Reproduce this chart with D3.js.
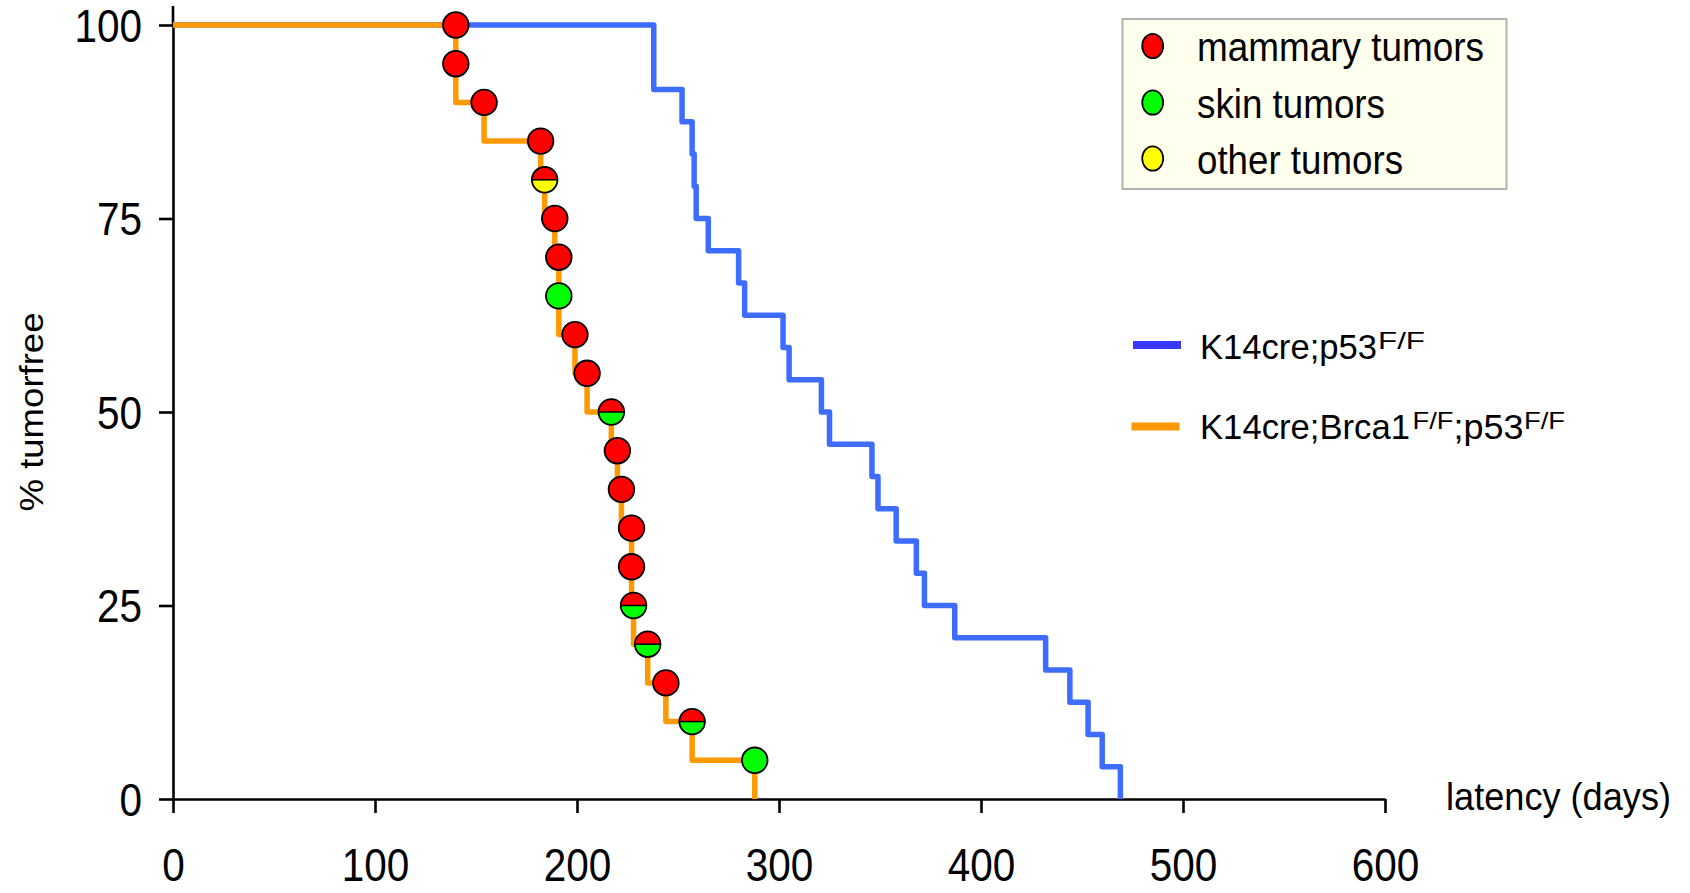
<!DOCTYPE html>
<html>
<head>
<meta charset="utf-8">
<script src="https://cdn.jsdelivr.net/npm/d3@7"></script>
<style>
  body { margin: 0; background: #fff; }
  text { font-family: Arial, "Liberation Sans", Helvetica, sans-serif; fill: #000; }
</style>
</head>
<body>
<svg id="chart" width="1690" height="893"></svg>
<script>
// K14cre;p53 F/F : step curve (day of step, % tumorfree after step)
const blueDays = [0, 238, 252, 257, 258, 259, 265, 280, 283, 302, 305, 321, 325, 346, 349, 358, 368, 372, 387, 432, 444, 453, 460, 469];
const bluePct  = [100, 91.67, 87.5, 83.33, 79.17, 75, 70.83, 66.67, 62.5, 58.33, 54.17, 50, 45.83, 41.67, 37.5, 33.33, 29.17, 25, 20.83, 16.67, 12.5, 8.33, 4.17, 0];

// K14cre;Brca1 F/F;p53 F/F : step curve
const orangeDays = [0, 140, 154, 182, 184, 189, 191, 199, 205, 217, 220, 222, 227, 228, 235, 244, 257, 288];
const orangePct  = [100, 90, 85, 80, 75, 70, 60, 55, 50, 45, 40, 35, 25, 20, 15, 10, 5, 0];

// tumor markers on the orange curve: M = mammary, S = skin, O = other
const markerDays  = [140, 140, 154, 182, 184, 189, 191, 191, 199, 205, 217, 220, 222, 227, 227, 228, 235, 244, 257, 288];
const markerPct   = [100, 95, 90, 85, 80, 75, 70, 65, 60, 55, 50, 45, 40, 35, 30, 25, 20, 15, 10, 5];
const markerTypes = ["M", "M", "M", "M", "MO", "M", "M", "S", "M", "M", "MS", "M", "M", "M", "M", "MS", "MS", "M", "MS", "S"];

const xTicks = [0, 100, 200, 300, 400, 500, 600];
const yTicks = [0, 25, 50, 75, 100];

const tumorLabels = ["mammary tumors", "skin tumors", "other tumors"];
const tumorColors = {M: "#ff0000", S: "#00ff00", O: "#ffff00"};

const svg = d3.select("#chart");
const x = d3.scaleLinear().domain([0, 600]).range([173, 1385]);
const y = d3.scaleLinear().domain([0, 100]).range([799, 25]);
const sx = 0.89; // glyphs in the picture are a bit narrow

// axes
const gx = svg.append("g")
    .attr("transform", `translate(0,${y(0)})`)
    .call(d3.axisBottom(x).tickValues(xTicks).tickSize(14).tickSizeOuter(0));
gx.selectAll("text")
    .attr("y", 82.5).attr("dy", 0)
    .attr("font-size", 45.5)
    .attr("transform", `scale(${sx},1)`);

const gy = svg.append("g")
    .attr("transform", `translate(${x(0)},0)`)
    .call(d3.axisLeft(y).tickValues(yTicks).tickSize(14).tickSizeOuter(0));
gy.selectAll("text")
    .attr("x", -31 / sx).attr("dy", "0.36em")
    .attr("font-size", 45.5)
    .attr("transform", `scale(${sx},1)`);
// y axis runs a little past 100
gy.append("line").attr("x1", 0).attr("x2", 0).attr("y1", y(100)).attr("y2", 6);

svg.selectAll(".domain, .tick line, g > line")
    .attr("stroke", "#000").attr("stroke-width", 2.6);
svg.selectAll(".tick text").attr("fill", "#000").attr("font-family", null);
gx.attr("font-family", null); gy.attr("font-family", null);

// curves
const step = d3.line().curve(d3.curveStepAfter)
    .x(d => x(d[0])).y(d => y(d[1]));

svg.append("path")
    .attr("d", step(d3.zip(blueDays, bluePct)))
    .attr("fill", "none").attr("stroke", "#3d6cff")
    .attr("stroke-width", 5.5).attr("stroke-linejoin", "round");

svg.append("path")
    .attr("d", step(d3.zip(orangeDays, orangePct)))
    .attr("fill", "none").attr("stroke", "#ff9900")
    .attr("stroke-width", 5.5).attr("stroke-linejoin", "round");

// markers
const r = 12.8;
const mk = svg.append("g").selectAll("g")
    .data(markerDays.map((d, i) => ({day: d, pct: markerPct[i], type: markerTypes[i]})))
    .join("g")
    .attr("transform", d => `translate(${x(d.day)},${y(d.pct)})`);

mk.append("circle").attr("r", r)
    .attr("fill", d => tumorColors[d.type[d.type.length - 1]]);
mk.filter(d => d.type.length > 1).append("path")
    .attr("d", `M${-r},0A${r},${r} 0 0 1 ${r},0Z`)
    .attr("fill", d => tumorColors[d.type[0]]);
mk.filter(d => d.type.length > 1).append("line")
    .attr("x1", -r).attr("x2", r).attr("y1", 0).attr("y2", 0)
    .attr("stroke", "#000").attr("stroke-width", 1.5);
mk.append("circle").attr("r", r)
    .attr("fill", "none").attr("stroke", "#000").attr("stroke-width", 1.8);

// text helper
function label(str, x0, y0, size, len, anchor) {
  const t = svg.append("text").attr("x", x0).attr("y", y0)
      .attr("font-size", size).text(str);
  if (len) t.attr("textLength", len).attr("lengthAdjust", "spacingAndGlyphs");
  if (anchor) t.attr("text-anchor", anchor);
  return t;
}

// axis titles
label("latency (days)", 1446, 810, 38, 225);
svg.append("text")
    .attr("transform", "translate(43,412) rotate(-90) scale(1,0.9)")
    .attr("text-anchor", "middle")
    .attr("font-size", 37)
    .attr("textLength", 199).attr("lengthAdjust", "spacingAndGlyphs")
    .text("% tumorfree");

// tumor legend
svg.append("rect")
    .attr("x", 1122.5).attr("y", 19).attr("width", 384).attr("height", 170)
    .attr("fill", "#ffffee").attr("stroke", "#b4b4b4").attr("stroke-width", 2);
const legY = [46, 102.5, 158.5];
const legLen = [287, 188, 206];
["M", "S", "O"].forEach((k, i) => {
  svg.append("ellipse")
      .attr("cx", 1152.7).attr("cy", legY[i]).attr("rx", 10.5).attr("ry", 12.2)
      .attr("fill", tumorColors[k]).attr("stroke", "#000").attr("stroke-width", 1.7);
  label(tumorLabels[i], 1197, legY[i] + 15, 40, legLen[i]);
});

// series legend
svg.append("line").attr("x1", 1133).attr("x2", 1181).attr("y1", 345).attr("y2", 345)
    .attr("stroke", "#3838ff").attr("stroke-width", 8);
label("K14cre;p53", 1200, 359, 35, 177);
label("F/F", 1378, 349, 24, 47);

svg.append("line").attr("x1", 1131.5).attr("x2", 1179.5).attr("y1", 426.5).attr("y2", 426.5)
    .attr("stroke", "#ff9900").attr("stroke-width", 8);
label("K14cre;Brca1", 1200, 438.5, 35, 210);
label("F/F", 1412.5, 428.5, 24, 41);
label(";p53", 1453.5, 438.5, 35, 70);
label("F/F", 1524, 428.5, 24, 41);
</script>
</body>
</html>
